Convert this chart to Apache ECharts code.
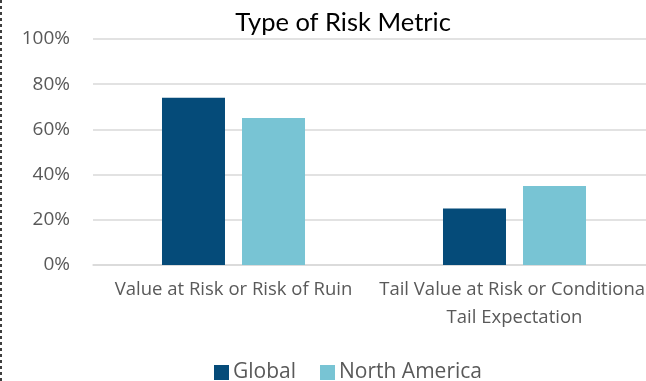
<!DOCTYPE html>
<html>
<head>
<meta charset="utf-8">
<script src="https://cdn.jsdelivr.net/npm/echarts@6/dist/echarts.min.js"></script>
<style>
    html, body { margin: 0; padding: 0; background: #fff; }
    #chart { width: 646px; height: 381px; }
</style>
</head>
<body>
<div id="chart"></div>
<script>
const categories = ['Value at Risk or Risk of Ruin', 'Tail Value at Risk or Conditional\nTail Expectation'];
const globalValues = [74, 25];
const northAmericaValues = [65, 35];
const yTicks = [0, 20, 40, 60, 80, 100];

const chart = echarts.init(document.getElementById('chart'));

chart.setOption({
    animation: false,
    title: {
        text: 'Type of Risk Metric',
        left: 338,
        top: 5,
        textAlign: 'center',
        textStyle: {
            fontFamily: 'Lato',
            fontWeight: 'normal',
            fontSize: 25.5,
            color: '#000'
        }
    },
    legend: {
        left: 209,
        top: 357,
        itemWidth: 15,
        itemHeight: 15,
        itemGap: 24,
        icon: 'rect',
        textStyle: {
            fontFamily: 'Open Sans',
            fontSize: 21,
            color: '#595959',
            padding: [0, 0, 0, -1]
        },
        data: ['Global', 'North America']
    },
    grid: {
        left: 93,
        top: 39,
        width: 562,
        height: 226,
        outerBoundsMode: 'none'
    },
    xAxis: {
        type: 'category',
        data: categories,
        axisTick: { show: false },
        axisLine: { lineStyle: { color: '#d9d9d9', width: 1.5 } },
        axisLabel: {
            interval: 0,
            hideOverlap: false,
            margin: 11,
            fontFamily: 'Open Sans',
            fontSize: 18.5,
            lineHeight: 28,
            color: '#595959'
        }
    },
    yAxis: {
        type: 'value',
        min: yTicks[0],
        max: yTicks[yTicks.length - 1],
        interval: 20,
        axisLine: { show: false },
        axisTick: { show: false },
        axisLabel: {
            margin: 23,
            fontFamily: 'Open Sans',
            fontSize: 19,
            color: '#595959',
            formatter: '{value}%'
        },
        splitLine: { lineStyle: { color: '#d9d9d9', width: 1.5 } }
    },
    series: [
        {
            name: 'Global',
            type: 'bar',
            barWidth: 63,
            barGap: '27%',
            itemStyle: { color: '#054B79' },
            data: globalValues
        },
        {
            name: 'North America',
            type: 'bar',
            barWidth: 63,
            itemStyle: { color: '#78C4D4' },
            data: northAmericaValues
        }
    ],
    graphic: [
        {
            type: 'line',
            shape: { x1: 1, y1: 0, x2: 1, y2: 381 },
            style: { stroke: '#000', lineWidth: 1.5, lineDash: [3, 3] }
        }
    ]
});
</script>
</body>
</html>
